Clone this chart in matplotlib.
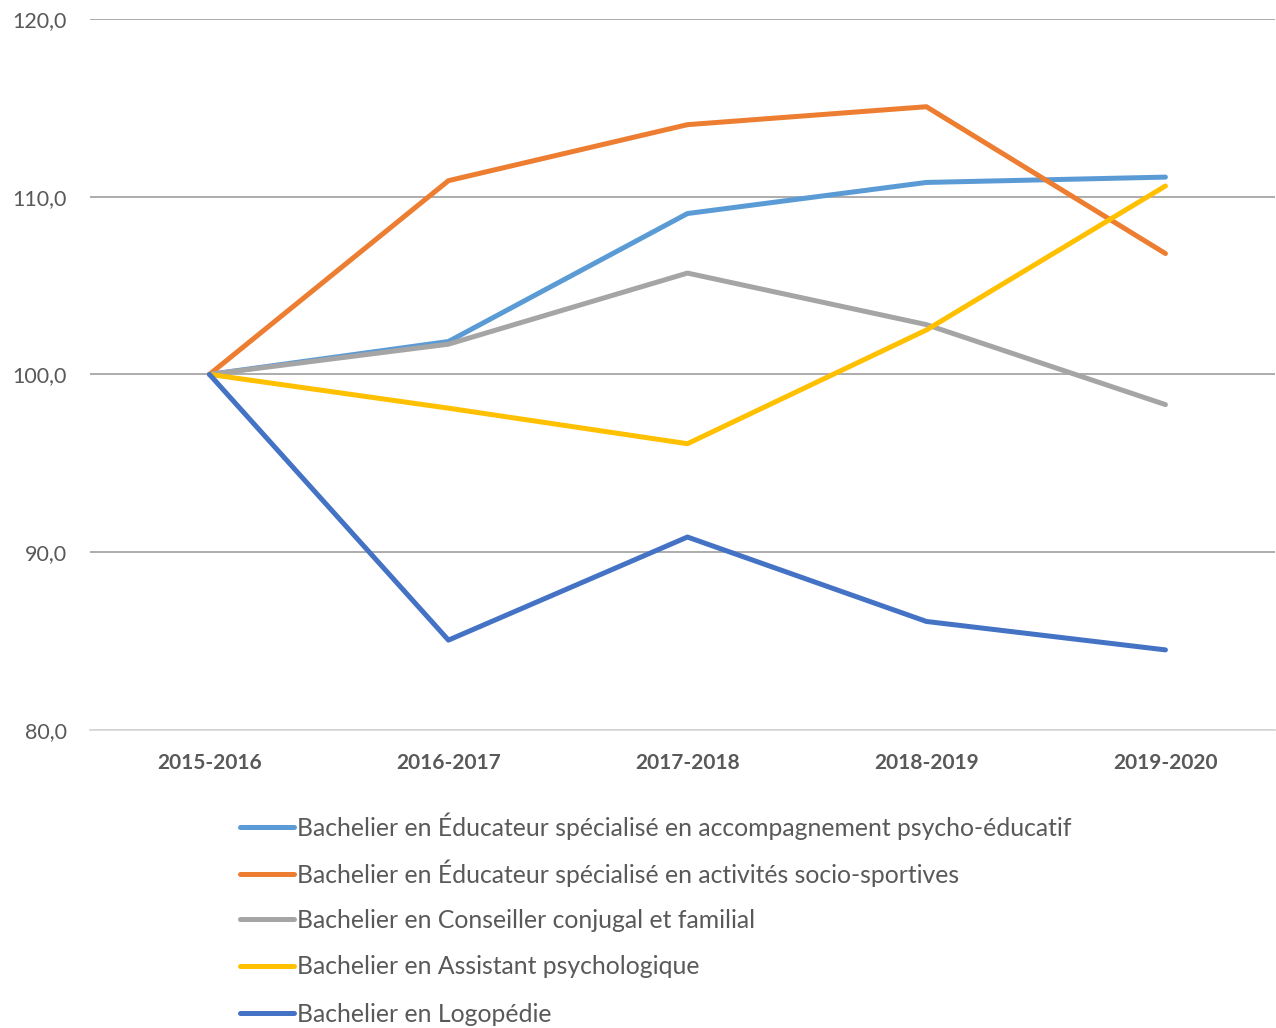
import matplotlib
matplotlib.use("Agg")
import matplotlib.pyplot as plt
from matplotlib.ticker import FuncFormatter

plt.rcParams['font.family'] = ['Lato', 'DejaVu Sans']

years = ["2015-2016", "2016-2017", "2017-2018", "2018-2019", "2019-2020"]
labels = [
    "Bachelier en Éducateur spécialisé en accompagnement psycho-éducatif",
    "Bachelier en Éducateur spécialisé en activités socio-sportives",
    "Bachelier en Conseiller conjugal et familial",
    "Bachelier en Assistant psychologique",
    "Bachelier en Logopédie",
]
educ_psycho = [100.0, 101.85, 109.05, 110.8, 111.1]
educ_sport = [100.0, 110.9, 114.05, 115.06, 106.8]
conseiller = [100.0, 101.7, 105.7, 102.8, 98.3]
assistant = [100.0, 98.1, 96.1, 102.5, 110.6]
logopedie = [100.0, 85.05, 90.85, 86.1, 84.5]
series = [educ_psycho, educ_sport, conseiller, assistant, logopedie]
colors = ["#5B9BD5", "#ED7D31", "#A5A5A5", "#FFC000", "#4472C4"]

W, H = 1276, 1028
fig = plt.figure(figsize=(W / 100, H / 100), dpi=100)
ax = fig.add_axes([0.0705, 0.290, 0.929, 0.6916])

x = list(range(len(years)))
lines = []
for vals, c, lab in zip(series, colors, labels):
    ln, = ax.plot(x, vals, color=c, lw=3.6, label=lab, solid_capstyle='round', solid_joinstyle='round')
    lines.append(ln)

ax.set_ylim(80, 120)
ax.set_yticks([80, 90, 100, 110, 120])
ax.yaxis.set_major_formatter(FuncFormatter(lambda v, p: f"{v:.1f}".replace('.', ',')))
ax.set_xlim(-0.5, 4.46)
ax.set_xticks(x)
ax.set_xticklabels(years, fontweight='bold')
ax.grid(axis='y', color='#A6A6A6', lw=1.3)
ax.set_axisbelow(True)
for s in ['top', 'right', 'left']:
    ax.spines[s].set_visible(False)
ax.spines['bottom'].set_color('#D9D9D9')
ax.spines['bottom'].set_linewidth(1.3)
ax.tick_params(axis='both', length=0, colors='#595959')
ax.tick_params(axis='x', pad=17, labelsize=15)
ax.tick_params(axis='y', pad=16.5, labelsize=15.5)

# one legend per row for even spacing
row_y = [826, 873, 920, 967, 1014]
for ln, ry in zip(lines, row_y):
    leg = fig.legend([ln], [ln.get_label()], loc='center left',
                     bbox_to_anchor=(240 / W, 1 - ry / H), frameon=False,
                     fontsize=17.8, handlelength=2.2, handletextpad=0.12,
                     borderaxespad=0, borderpad=0)
    for t in leg.get_texts():
        t.set_color('#595959')

fig.savefig("out.png", dpi=100)
